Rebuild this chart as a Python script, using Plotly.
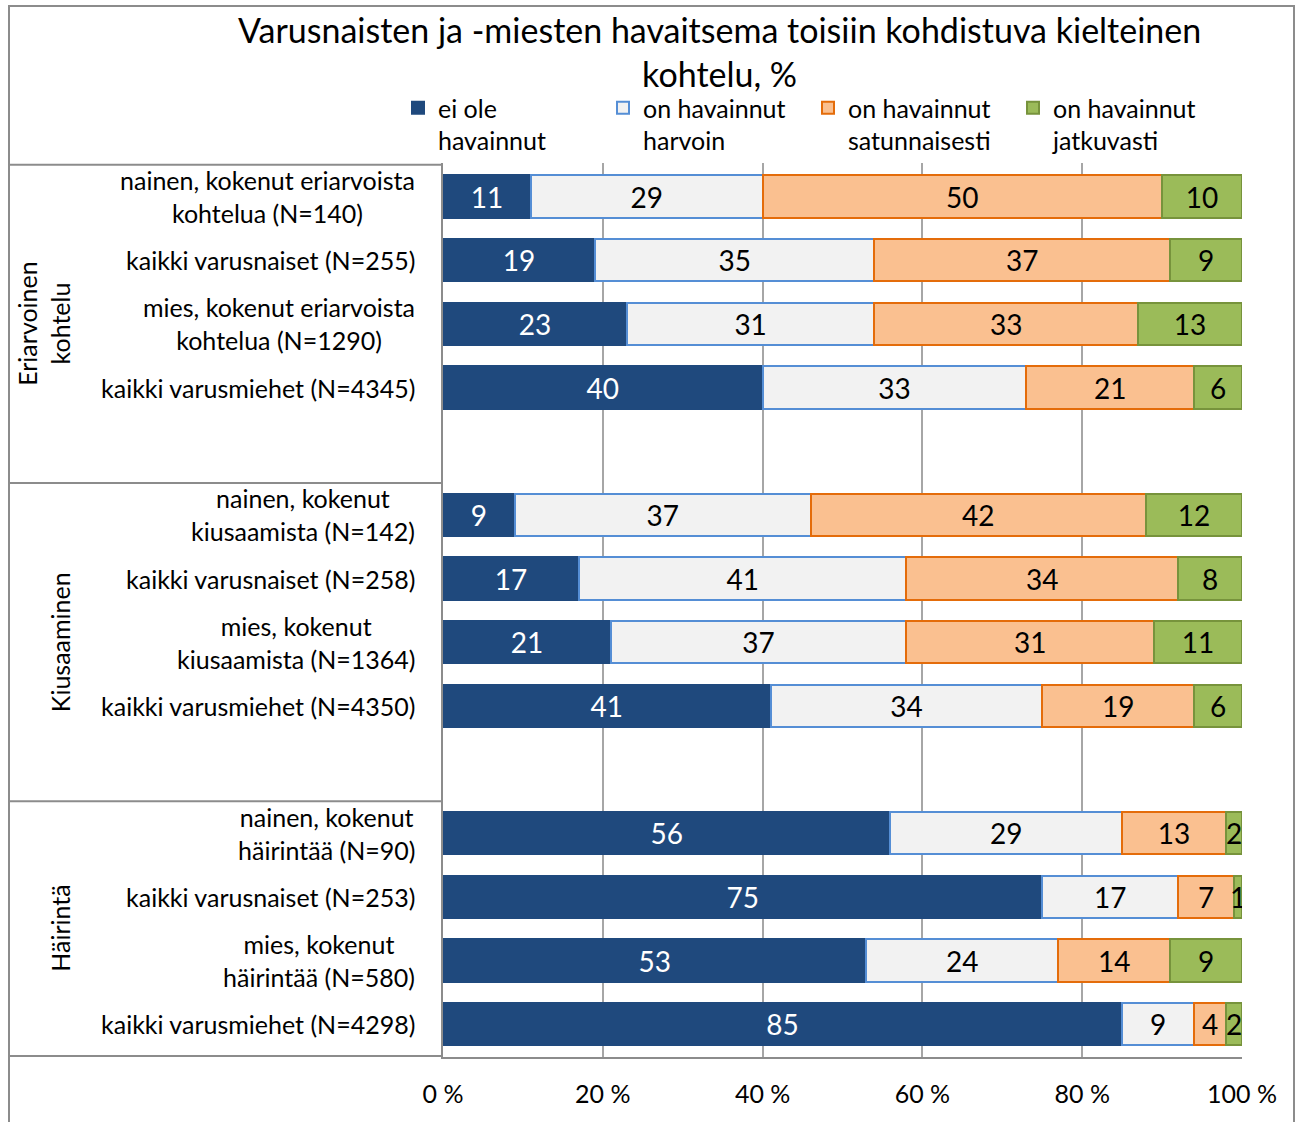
import plotly.graph_objects as go

FONT = "Lato"

title_text = "Varusnaisten ja -miesten havaitsema toisiin kohdistuva kielteinen<br>kohtelu, %"

groups = ["Eriarvoinen<br>kohtelu", "Kiusaaminen", "Häirintä"]

categories = [
    "nainen, kokenut eriarvoista<br>kohtelua (N=140)",
    "kaikki varusnaiset (N=255)",
    "mies, kokenut eriarvoista<br>kohtelua (N=1290)",
    "kaikki varusmiehet (N=4345)",
    " ",
    "nainen, kokenut<br>kiusaamista (N=142)",
    "kaikki varusnaiset (N=258)",
    "mies, kokenut<br>kiusaamista (N=1364)",
    "kaikki varusmiehet (N=4350)",
    "  ",
    "nainen, kokenut<br>häirintää (N=90)",
    "kaikki varusnaiset (N=253)",
    "mies, kokenut<br>häirintää (N=580)",
    "kaikki varusmiehet (N=4298)",
]

series_names = ["ei ole<br>havainnut", "on havainnut<br>harvoin",
                "on havainnut<br>satunnaisesti", "on havainnut<br>jatkuvasti"]

ei_ole = [11, 19, 23, 40, None, 9, 17, 21, 41, None, 56, 75, 53, 85]
harvoin = [29, 35, 31, 33, None, 37, 41, 37, 34, None, 29, 17, 24, 9]
satunnaisesti = [50, 37, 33, 21, None, 42, 34, 31, 19, None, 13, 7, 14, 4]
jatkuvasti = [10, 9, 13, 6, None, 12, 8, 11, 6, None, 2, 1, 9, 2]

tick_vals = [0, 20, 40, 60, 80, 100]
tick_text = ["0 %", "20 %", "40 %", "60 %", "80 %", "100 %"]

fills = ["#1F497D", "#F2F2F2", "#FAC090", "#9BBB59"]
edges = ["#1F497D", "#558ED5", "#E46C0A", "#77933C"]
text_cols = ["white", "black", "black", "black"]

fig = go.Figure()
for name, vals, fc, ec, tc in zip(series_names,
                                  [ei_ole, harvoin, satunnaisesti, jatkuvasti],
                                  fills, edges, text_cols):
    fig.add_trace(go.Bar(
        y=categories, x=vals, name=name, orientation="h",
        marker=dict(color=fc, line=dict(color=ec, width=2)),
        text=[("" if v is None else str(v)) for v in vals],
        textposition="inside", insidetextanchor="middle",
        constraintext="none", textangle=0,
        textfont=dict(family=FONT, size=28, color=tc),
        hoverinfo="skip",
    ))

W, H = 1302, 1122
L, R, T, B = 443, 60, 163, 65
pw, ph = W - L - R, H - T - B

def px_x(px):
    return (px - L) / pw

def px_y(py):
    return (H - B - py) / ph

annotations = []
# chart title
annotations.append(dict(
    x=px_x(719), xref="paper", y=px_y(7), yref="paper", text=title_text,
    showarrow=False, xanchor="center", yanchor="top", align="center",
    font=dict(family=FONT, size=34, color="black")))

for c in categories:
    if c.strip() == "":
        continue
    annotations.append(dict(
        x=px_x(417), xref="paper", y=c, yref="y", text=c, showarrow=False,
        xanchor="right", yanchor="middle", align="center",
        font=dict(family=FONT, size=25, color="black")))

group_pos = [(44, 2), (60, 7), (60, 11.5)]
for g, (gx, gy) in zip(groups, group_pos):
    annotations.append(dict(
        x=px_x(gx), xref="paper", y=gy, yref="y", text=g, showarrow=False,
        textangle=-90, xanchor="center", yanchor="middle", align="center",
        font=dict(family=FONT, size=25, color="black")))

line_col = "#8C8C8C"
shapes = []
# outer frame of the chart
shapes.append(dict(type="rect", xref="paper", yref="paper",
                   x0=px_x(9), x1=px_x(1294), y0=px_y(1140), y1=px_y(6),
                   line=dict(color=line_col, width=2), layer="below"))
# label table horizontal separators
for yb in [-0.5, 4.5, 9.5, 13.5]:
    shapes.append(dict(type="line", xref="paper", yref="y",
                       x0=px_x(9), x1=0, y0=yb, y1=yb,
                       line=dict(color=line_col, width=2)))

fig.update_layout(
    width=W, height=H,
    margin=dict(l=L, r=R, t=T, b=B, pad=0, autoexpand=False),
    paper_bgcolor="white", plot_bgcolor="white",
    barmode="stack", bargap=0.34,
    font=dict(family=FONT, color="black"),
    legend=dict(orientation="h", x=px_x(398), xanchor="left",
                y=px_y(85), yanchor="top", valign="top",
                traceorder="normal", entrywidthmode="pixels", entrywidth=160,
                font=dict(family=FONT, size=25, color="black"),
                bgcolor="rgba(0,0,0,0)"),
    xaxis=dict(range=[0, 100], tickvals=tick_vals, ticktext=tick_text,
               showgrid=True, gridcolor="#A6A6A6", gridwidth=2,
               showline=True, linecolor=line_col, linewidth=2,
               zeroline=False, ticks="", ticklabelstandoff=14,
               tickfont=dict(family=FONT, size=25, color="black"),
               automargin=False, fixedrange=True),
    yaxis=dict(categoryorder="array", categoryarray=categories,
               autorange="reversed", showticklabels=False,
               showline=True, linecolor=line_col, linewidth=2,
               showgrid=False, zeroline=False, ticks="",
               automargin=False, fixedrange=True),
    annotations=annotations, shapes=shapes,
    showlegend=True,
)

fig.write_html("out.html", post_script="document.body.style.margin='0';",
               config={"displayModeBar": False})
